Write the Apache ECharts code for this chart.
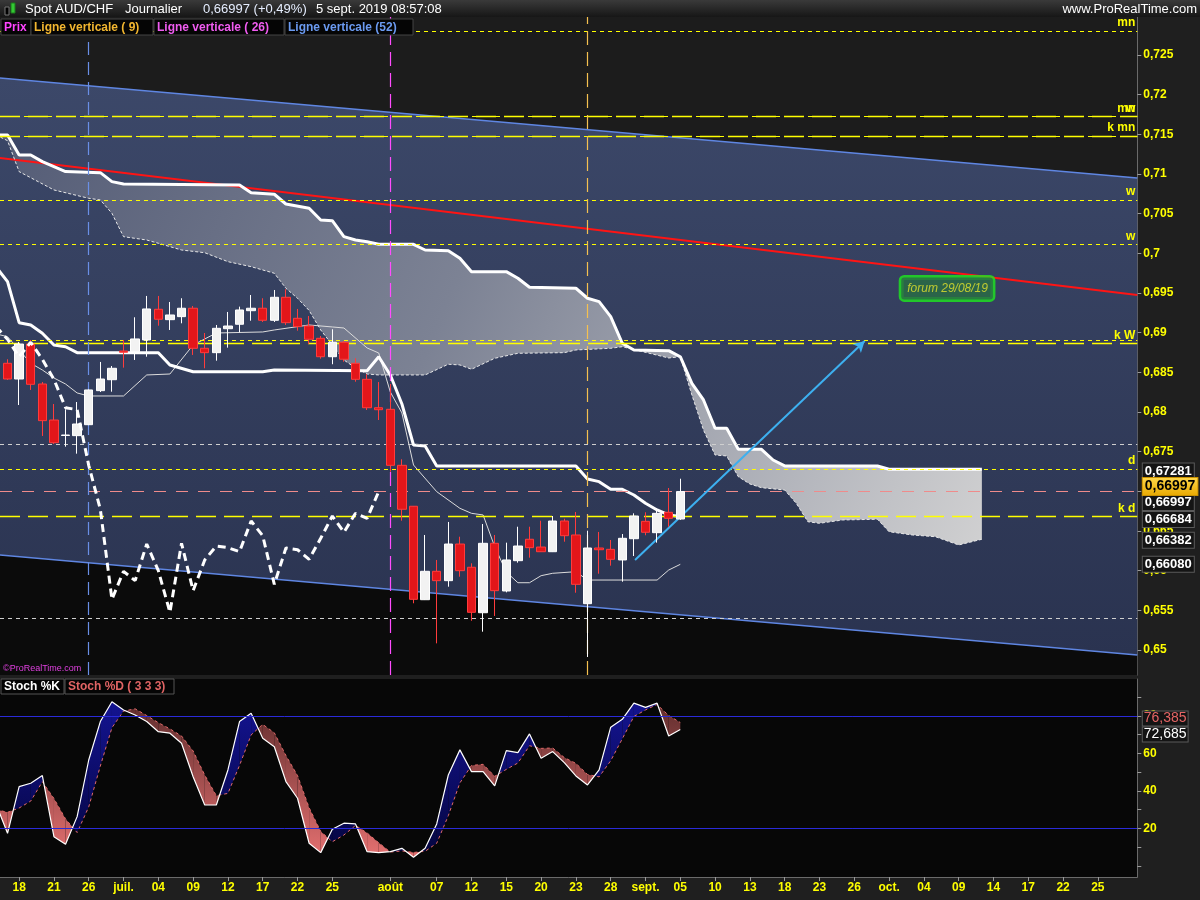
<!DOCTYPE html>
<html><head><meta charset="utf-8">
<script src="https://cdn.jsdelivr.net/npm/echarts@6/dist/echarts.min.js"></script>
<style>html,body{margin:0;padding:0;background:#1f1f1f;}#c{width:1200px;height:900px;}</style>
</head><body><div id="c"></div>
<script>
// ---------- DATA ----------
// trading-day index: 0 = 18 juin 2019 ; candles start at index -1
const candleFirstIdx = -1;
const open = [0.68614,0.68416,0.68857,0.68353,0.67899,0.67704,0.67702,0.67840,0.68269,0.68407,0.68769,0.68760,0.68908,0.69295,0.69164,0.69202,0.69308,0.68803,0.68748,0.69050,0.69106,0.69277,0.69308,0.69156,0.69446,0.69181,0.69084,0.68929,0.68697,0.68879,0.68614,0.68412,0.68054,0.68034,0.67328,0.66812,0.65634,0.65992,0.65874,0.66336,0.66043,0.65470,0.66345,0.65744,0.66126,0.66396,0.66298,0.66239,0.66626,0.66450,0.65584,0.66286,0.66269,0.66135,0.66403,0.66622,0.66479,0.66736,0.66651];
const close = [0.68416,0.68857,0.68349,0.67891,0.67613,0.67710,0.67849,0.68278,0.68416,0.68551,0.68753,0.68921,0.69299,0.69169,0.69223,0.69308,0.68803,0.68748,0.69055,0.69084,0.69286,0.69308,0.69156,0.69446,0.69126,0.69076,0.68917,0.68697,0.68879,0.68665,0.68412,0.68054,0.68029,0.67328,0.66774,0.65639,0.65992,0.65874,0.66336,0.66000,0.65475,0.66345,0.65748,0.66135,0.66311,0.66290,0.66239,0.66626,0.66441,0.65828,0.66286,0.66264,0.66143,0.66408,0.66689,0.66484,0.66723,0.66660,0.66997];
const low = [0.68404,0.68088,0.68278,0.67698,0.67597,0.67563,0.67475,0.67835,0.68252,0.68256,0.68559,0.68656,0.68697,0.69088,0.69034,0.69118,0.68719,0.68551,0.68647,0.68811,0.69005,0.69151,0.69135,0.69135,0.69097,0.69025,0.68857,0.68672,0.68602,0.68634,0.68382,0.68025,0.67899,0.67248,0.66630,0.65589,0.65630,0.65084,0.65798,0.65924,0.65369,0.65231,0.65429,0.65727,0.66101,0.66164,0.66235,0.66235,0.66365,0.65722,0.64912,0.65962,0.66063,0.65861,0.66185,0.66446,0.66353,0.66554,0.66640];
const high = [0.68665,0.68883,0.68908,0.68378,0.68101,0.68034,0.68126,0.68285,0.68631,0.68580,0.68908,0.69194,0.69463,0.69463,0.69387,0.69434,0.69336,0.68996,0.69097,0.69261,0.69328,0.69475,0.69434,0.69538,0.69547,0.69299,0.69210,0.68958,0.69043,0.68895,0.68677,0.68476,0.68378,0.68353,0.67404,0.66815,0.66450,0.66135,0.66614,0.66428,0.66093,0.66588,0.66450,0.66353,0.66554,0.66554,0.66630,0.66689,0.66655,0.66740,0.66504,0.66488,0.66387,0.66462,0.66723,0.66736,0.66790,0.67042,0.67159];
const chikouShift = 26;

// Ichimoku lines: [day index, price]
const cloudTop = [[-2,0.71492],[-1,0.71492],[0,0.71240],[1,0.71240],[2,0.71156],[4,0.71030],[7,0.71017],[8,0.70904],[9,0.70874],[19,0.70862],[20,0.70765],[22,0.70745],[23,0.70622],[25,0.70568],[26,0.70421],[27,0.70412],[28,0.70210],[29,0.70168],[30,0.70147],[31,0.70114],[34,0.70114],[35,0.70042],[37,0.70034],[38,0.69938],[39,0.69769],[42,0.69769],[43,0.69686],[44,0.69572],[48,0.69560],[49,0.69434],[50,0.69391],[51,0.69202],[52,0.68866],[53,0.68782],[56,0.68773],[57,0.68697],[58,0.68362],[59,0.68152],[60,0.67795],[61,0.67795],[62,0.67530],[64,0.67530],[65,0.67395],[66,0.67320],[74,0.67320],[75,0.67278],[83,0.67278]];
const cloudBottom = [[-2,0.71492],[-1,0.71420],[0,0.71030],[3,0.70799],[6,0.70694],[7,0.70673],[8,0.70505],[9,0.70210],[11,0.70168],[12,0.70127],[14,0.70042],[16,0.70008],[18,0.69895],[20,0.69832],[22,0.69749],[23,0.69560],[24,0.69434],[25,0.69280],[26,0.69034],[27,0.68845],[28,0.68656],[29,0.68555],[30,0.68479],[31,0.68467],[35,0.68467],[37,0.68602],[38,0.68593],[39,0.68539],[41,0.68677],[43,0.68740],[47,0.68748],[48,0.68782],[51,0.68803],[52,0.68823],[56,0.68681],[57,0.68697],[58,0.68215],[59,0.67773],[60,0.67458],[61,0.67446],[62,0.67185],[63,0.67093],[64,0.67046],[66,0.67017],[67,0.66849],[68,0.66617],[69,0.66597],[71,0.66639],[74,0.66648],[75,0.66491],[77,0.66450],[79,0.66428],[81,0.66324],[83,0.66396]];
const kijun = [[-2,0.69830],[-1,0.69643],[0,0.69126],[1,0.69097],[2,0.68992],[3,0.68845],[4,0.68823],[5,0.68748],[12,0.68748],[13,0.68593],[15,0.68508],[21,0.68508],[22,0.68530],[30,0.68521],[31,0.68697],[32,0.68467],[33,0.68101],[34,0.67584],[35,0.67572],[36,0.67320],[48,0.67320],[49,0.67156],[50,0.67122],[51,0.67026],[52,0.67026],[53,0.66954],[54,0.66849],[55,0.66765],[56,0.66702],[57,0.66684]];
const tenkan = [[-2,0.68985],[-1,0.68949],[0,0.68782],[1,0.68614],[2,0.68530],[3,0.68429],[4,0.68353],[5,0.68240],[6,0.68202],[9,0.68202],[11,0.68467],[13,0.68479],[15,0.68845],[17,0.68996],[21,0.69009],[22,0.69034],[25,0.69097],[27,0.69072],[28,0.69059],[30,0.68807],[31,0.68744],[32,0.68252],[33,0.67988],[34,0.67332],[36,0.66996],[38,0.66786],[39,0.66723],[40,0.66702],[41,0.66302],[42,0.65983],[43,0.65848],[44,0.65848],[45,0.65937],[46,0.65967],[48,0.65987],[49,0.65882],[55,0.65882],[56,0.66008],[57,0.66080]];

// drawn lines: [day index, price]
const channelUpper = [[-2,0.72215],[96.4,0.70950]];
const channelLower = [[-2,0.66203],[96.4,0.64937]];
const redTrend = [[-2,0.71207],[96.4,0.69475]];
const arrowLine = [[53.1,0.66135],[72.9,0.68895]];
const forumNote = [[80,0.69557]];
const forumText = 'forum 29/08/19';

// horizontal levels
const hLevelValues = [0.72803,0.71723,0.71723,0.71480,0.71480,0.70673,0.70114,0.68908,0.68866,0.67593,0.67281,0.66997,0.66684,0.65400];
const hLevelKinds  = ['short','short','long','short','long','short','short','short','long','gray','short','pink','long','gray'];
const hLevelLabels = ['mn','mn','w','','k mn','w','w','','k W','','d','','k d',''];
// vertical lines (day index)
const vLineIdx = [6,32,49];
const vLineKinds = ['blue','magenta','orange'];

// right-hand price tags
const priceTagValues = [0.67281,0.66997,0.66997,0.66684,0.66382,0.66080];
const priceTagKinds  = ['dark','dark','yellow','dark','dark','dark'];

// stochastic (index -2 .. 57)
const stochFirstIdx = -2;
const stochK = [33,17.3,42.2,44.0,48.1,15.5,11.5,26.2,56.4,76.9,87.5,83.1,80.4,76.9,71.5,70.7,65.3,47.5,32.4,32.4,51.1,76.9,81.3,68.0,63.5,44.9,36.0,12.0,7.0,19.5,22.7,22.3,7.5,7.0,7.5,9.3,4.5,9.3,22.3,48.4,61.8,50.2,50.2,42.6,61.4,60.3,70.3,57.3,60.9,55.0,47.9,43.1,51.1,73.9,78.1,86.7,84.5,86.7,69.2,72.685];
const stochD = [30,28.5,30.8,34.5,44.8,35.9,25.0,17.7,31.4,53.2,73.6,82.5,83.7,80.1,76.3,73.0,69.2,61.2,48.4,37.4,38.6,53.5,69.8,75.4,70.9,58.8,48.1,31.0,18.3,12.8,16.4,21.5,17.5,12.3,7.3,7.9,7.1,7.7,12.0,26.7,44.2,53.5,54.1,47.7,51.4,54.8,64.0,62.6,62.8,57.7,54.6,48.7,47.4,56.0,67.7,79.6,83.1,86.0,80.1,76.385];
const stochLevels = [80,20];

// axis ticks
const tickIdx = [0,3,6,9,12,15,18,21,24,27,32,36,39,42,45,48,51,54,57,60,63,66,69,72,75,78,81,84,87,90,93];
const tickLabels = ['18','21','26','juil.','04','09','12','17','22','25','août','07','12','15','20','23','28','sept.','05','10','13','18','23','26','oct.','04','09','14','17','22','25'];
const priceTicks = [0.65,0.655,0.66,0.665,0.67,0.675,0.68,0.685,0.69,0.695,0.7,0.705,0.71,0.715,0.72,0.725];
const stochTicks = [0,10,20,30,40,50,60,70,80,90];
const stochLabelTicks = [20,40,60,80];

// ---------- CHART ----------
const X_MIN = -1.65, X_MAX = 96.4, Y_MIN = 0.64685, Y_MAX = 0.72979;
const FONT = 'Liberation Sans';
const YEL = '#ffff00';
const labelMap = {}; tickIdx.forEach((v,i)=>labelMap[v]=tickLabels[i]);
const fmtPrice = v => String(parseFloat((+v).toFixed(3))).replace('.', ',');
const G = echarts.graphic;

function poly(getPts, fill, z){
  return {type:'custom', xAxisIndex:0, yAxisIndex:0, z, silent:true, clip:true, data:[[X_MIN, Y_MIN]],
    encode:{x:0,y:1},
    renderItem:(p,api)=>({type:'polygon', shape:{points:getPts().map(pt=>api.coord(pt))}, style:{fill}})};
}
function lineS(data, color, width, type, z, xi, yi){
  return {type:'line', xAxisIndex:xi||0, yAxisIndex:yi||0, z, silent:true, showSymbol:false, symbol:'none',
    data, lineStyle:{color, width, type: type||'solid'}, clip:true, animation:false};
}
const kindStyle = {
  short:{color:YEL, width:1, type:[4,4]},
  long:{color:YEL, width:1.3, type:[20,8]},
  gray:{color:'#cfcfcf', width:1, type:[4,4]},
  pink:{color:'#ef8b8b', width:1, type:[12,10]}
};
const vStyle = {
  blue:{color:'#6a8fe6', width:1.2, type:[13,7]},
  magenta:{color:'#ff4cff', width:1.2, type:[14,7]},
  orange:{color:'#f5c050', width:1.2, type:[14,7]}
};

const chikou = close.map((c,j)=>[j+candleFirstIdx-chikouShift, c]).filter(p=>p[0]>=-2);

const series = [
  poly(()=>[channelUpper[0],channelUpper[1],channelLower[1],channelLower[0]],
    new G.LinearGradient(0,0,0,1,[{offset:0,color:'#3c4869'},{offset:1,color:'#2a3350'}]),1),
  poly(()=>[channelLower[0],channelLower[1],[X_MAX,Y_MIN],[-2,Y_MIN]], '#0b0b0b',1),
  poly(()=>cloudTop.concat(cloudBottom.slice().reverse()),
    new G.LinearGradient(0,0,1,1,[{offset:0,color:'#545c76'},{offset:0.45,color:'#7c8294'},{offset:1,color:'#d0d0d1'}]),2),
  lineS(channelUpper,'#5f86e2',1.5,'solid',3),
  lineS(channelLower,'#5f86e2',1.5,'solid',3),
  {type:'line', xAxisIndex:0, yAxisIndex:0, data:[], z:3, silent:true,
    markLine:{silent:true, symbol:['none','none'], animation:false, precision:6,
      data: hLevelValues.map((v,i)=>({yAxis:v, lineStyle:kindStyle[hLevelKinds[i]],
        label:{show:!!hLevelLabels[i], formatter:hLevelLabels[i], position:'insideEndTop', distance:2,
          color:YEL, fontWeight:'bold', fontSize:12, fontFamily:FONT}}))
    }},
  {type:'line', xAxisIndex:0, yAxisIndex:0, data:[], z:3, silent:true,
    markLine:{silent:true, symbol:['none','none'], animation:false, precision:6, label:{show:false},
      data: vLineIdx.map((v,i)=>({xAxis:v, lineStyle:vStyle[vLineKinds[i]]}))}},
  lineS(redTrend,'#ff1414',2,'solid',4),
  lineS(cloudBottom,'#e8e8e8',1,[3,2],4),
  lineS(cloudTop,'#ffffff',3,'solid',4),
  lineS(tenkan,'#dcdcdc',1,'solid',4),
  lineS(kijun,'#ffffff',3,'solid',4),
  {type:'candlestick', xAxisIndex:0, yAxisIndex:0, z:5, silent:true, barWidth:9, animation:false,
    data: open.map((o,i)=>[i+candleFirstIdx, o, close[i], low[i], high[i]]),
    encode:{x:0, y:[1,2,3,4]},
    itemStyle:{color:'#f2f2f2', color0:'#e3161a', borderColor:'#ffffff', borderColor0:'#ff3c3c', borderWidth:1}},
  lineS(chikou,'#ffffff',3,[8,5],6),
  {type:'line', xAxisIndex:0, yAxisIndex:0, data:[], z:7, silent:true,
    markLine:{silent:true, animation:false, precision:6, symbol:['none','arrow'], symbolSize:[9,11],
      lineStyle:{color:'#3db0f0', width:2, type:'solid'}, label:{show:false},
      data:[[{coord:arrowLine[0]},{coord:arrowLine[1]}]]}},
  {type:'scatter', xAxisIndex:0, yAxisIndex:0, z:8, silent:true, symbolSize:0, data:forumNote,
    label:{show:true, position:'inside', formatter:forumText, color:'#e4e42c', fontStyle:'italic', fontSize:12,
      fontFamily:FONT, backgroundColor:'#296d43', borderColor:'#1ee81e', borderWidth:2.5, borderRadius:3, padding:[5,5,5,6]}},
  {type:'line', xAxisIndex:0, yAxisIndex:0, data:[], z:9, silent:true,
    markPoint:{silent:true, animation:false, symbol:'rect', symbolSize:1, itemStyle:{color:'rgba(0,0,0,0)'},
      data: priceTagValues.map((v,i)=>{
        const yellow = priceTagKinds[i]==='yellow';
        const offs = [2,11,-5,3,0,0];
        return {coord:[X_MAX, v], label:{show:true, position:'right', distance:5, offset:[0,offs[i]],
          formatter: v.toFixed(5).replace('.',','), fontFamily:FONT, fontWeight:'bold',
          fontSize: yellow?14:13, color: yellow?'#000':'#ffffff',
          backgroundColor: yellow? new G.LinearGradient(0,0,0,1,[{offset:0,color:'#ffd84a'},{offset:1,color:'#e8a800'}]) :'#141414',
          borderColor: yellow?'#c89000':'#5a5a5a', borderWidth:1, padding: yellow?[2,2,1,2]:[1,2,1,2]}};
      })}},
  // ---- stochastic pane ----
  {type:'custom', xAxisIndex:1, yAxisIndex:1, z:2, silent:true, clip:true,
    data: stochK.slice(0,-1).map((v,i)=>[i+stochFirstIdx, v]), encode:{x:0,y:1},
    renderItem:(params, api)=>{
      const i = params.dataIndex;
      const x0 = i+stochFirstIdx, x1 = x0+1;
      const k0 = stochK[i], k1 = stochK[i+1], d0 = stochD[i], d1 = stochD[i+1];
      const yT = api.coord([0,100])[1], yB = api.coord([0,0])[1];
      const blue = new G.LinearGradient(0,yT,0,yB,[{offset:0,color:'#16169e'},{offset:1,color:'#04043a'}],true);
      const red = new G.LinearGradient(0,yT,0,yB,[{offset:0,color:'#4a2222'},{offset:1,color:'#ec7474'}],true);
      const e0 = k0-d0, e1 = k1-d1;
      const ch = [];
      const pg = (pts, fill)=>ch.push({type:'polygon', shape:{points:pts.map(p=>api.coord(p))}, style:{fill}});
      if (e0*e1 >= 0) {
        pg([[x0,k0],[x1,k1],[x1,d1],[x0,d0]], (e0+e1)>=0?blue:red);
      } else {
        const t = e0/(e0-e1), xc = x0+t, yc = k0+t*(k1-k0);
        pg([[x0,k0],[xc,yc],[x0,d0]], e0>0?blue:red);
        pg([[xc,yc],[x1,k1],[x1,d1]], e1>0?blue:red);
      }
      return {type:'group', children:ch};
    }},
  lineS(stochD.map((v,i)=>[i+stochFirstIdx,v]),'#e06a6a',1,[3,3],3,1,1),
  Object.assign(lineS(stochK.map((v,i)=>[i+stochFirstIdx,v]),'#ffffff',1.2,'solid',4,1,1),{
    markLine:{silent:true, animation:false, precision:6, symbol:['none','none'], label:{show:false},
      lineStyle:{color:'#2a2ad8', width:1, type:'solid'},
      data: stochLevels.map(v=>({yAxis:v}))},
    markPoint:{silent:true, animation:false, symbol:'rect', symbolSize:1, itemStyle:{color:'rgba(0,0,0,0)'},
      data:[
        {coord:[X_MAX, stochD[stochD.length-1]], label:{show:true, position:'right', distance:5, offset:[0,-4],
          formatter: stochD[stochD.length-1].toFixed(3).replace('.',','), color:'#e46464', fontSize:14, fontFamily:FONT,
          backgroundColor:'#141414', borderColor:'#5a5a5a', borderWidth:1, padding:[0,1,0,1]}},
        {coord:[X_MAX, stochK[stochK.length-1]], label:{show:true, position:'right', distance:5, offset:[0,5],
          formatter: stochK[stochK.length-1].toFixed(3).replace('.',','), color:'#ffffff', fontSize:14, fontFamily:FONT,
          backgroundColor:'#141414', borderColor:'#5a5a5a', borderWidth:1, padding:[0,1,0,1]}}
      ]}})
];

const axisCommonY = {
  type:'value', position:'right', scale:true, splitLine:{show:false},
  axisLine:{show:true, onZero:false, lineStyle:{color:'#6a6a6a'}}
};
const option = {
  backgroundColor:'#1f1f1f',
  animation:false,
  textStyle:{fontFamily:FONT},
  grid:[
    {left:0, width:1137.3, top:17, height:658, show:true, backgroundColor:'#1c1c1c', borderWidth:0},
    {left:0, width:1137.3, top:679, height:198, show:true, backgroundColor:'#070707', borderWidth:0}
  ],
  xAxis:[
    {type:'value', gridIndex:0, min:X_MIN, max:X_MAX, show:false, axisLine:{onZero:false}, splitLine:{show:false}},
    {type:'value', gridIndex:1, min:X_MIN, max:X_MAX, position:'bottom', splitLine:{show:false},
      axisLine:{show:true, onZero:false, lineStyle:{color:'#6a6a6a'}},
      axisTick:{show:true, customValues:tickIdx, length:4, lineStyle:{color:'#9a9a9a'}},
      axisLabel:{customValues:tickIdx, formatter:v=>labelMap[v]||'', color:YEL, fontWeight:'bold', fontSize:12, margin:5, fontFamily:FONT}}
  ],
  yAxis:[
    Object.assign({}, axisCommonY, {gridIndex:0, min:Y_MIN, max:Y_MAX,
      axisTick:{show:true, customValues:priceTicks, length:4, lineStyle:{color:'#9a9a9a'}},
      axisLabel:{customValues:priceTicks, formatter:fmtPrice, color:YEL, fontWeight:'bold', fontSize:12, margin:6, fontFamily:FONT}}),
    Object.assign({}, axisCommonY, {gridIndex:1, min:-6, max:99.6,
      axisTick:{show:true, customValues:stochTicks, length:4, lineStyle:{color:'#9a9a9a'}},
      axisLabel:{customValues:stochLabelTicks, formatter:v=>String(v), color:YEL, fontWeight:'bold', fontSize:12, margin:6, fontFamily:FONT}})
  ],
  graphic:[
    {type:'rect', z:50, shape:{x:0,y:0,width:1200,height:17},
      style:{fill:new G.LinearGradient(0,0,0,1,[{offset:0,color:'#3a3a3a'},{offset:1,color:'#161616'}])}},
    {type:'rect', z:51, shape:{x:5,y:7,width:4,height:8}, style:{fill:'#000', stroke:'#777', lineWidth:1}},
    {type:'rect', z:51, shape:{x:11,y:3,width:4,height:10}, style:{fill:'#34c834', stroke:'#1a7a1a', lineWidth:1}},
    {type:'text', z:51, x:25, y:9, style:{text:'Spot AUD/CHF', fill:'#ffffff', font:'13px '+FONT, verticalAlign:'middle'}},
    {type:'text', z:51, x:125, y:9, style:{text:'Journalier', fill:'#ffffff', font:'13px '+FONT, verticalAlign:'middle'}},
    {type:'text', z:51, x:203, y:9, style:{text:'0,66997 (+0,49%)', fill:'#e6eeff', font:'13px '+FONT, verticalAlign:'middle'}},
    {type:'text', z:51, x:316, y:9, style:{text:'5 sept. 2019 08:57:08', fill:'#ffffff', font:'13px '+FONT, verticalAlign:'middle'}},
    {type:'text', z:51, x:1197, y:9, style:{text:'www.ProRealTime.com', fill:'#ffffff', font:'13px '+FONT, align:'right', verticalAlign:'middle'}},
    {type:'rect', z:50, shape:{x:1,y:19,width:30,height:16}, style:{fill:'#050505', stroke:'#444', lineWidth:1}},
    {type:'rect', z:50, shape:{x:31,y:19,width:122,height:16}, style:{fill:'#050505', stroke:'#444', lineWidth:1}},
    {type:'rect', z:50, shape:{x:154,y:19,width:130,height:16}, style:{fill:'#050505', stroke:'#444', lineWidth:1}},
    {type:'rect', z:50, shape:{x:285,y:19,width:128,height:16}, style:{fill:'#050505', stroke:'#444', lineWidth:1}},
    {type:'text', z:51, x:4, y:27.5, style:{text:'Prix', fill:'#ff44ff', font:'bold 12px '+FONT, verticalAlign:'middle'}},
    {type:'text', z:51, x:34, y:27.5, style:{text:'Ligne verticale ( 9)', fill:'#f2b630', font:'bold 12px '+FONT, verticalAlign:'middle'}},
    {type:'text', z:51, x:157, y:27.5, style:{text:'Ligne verticale ( 26)', fill:'#f05cf0', font:'bold 12px '+FONT, verticalAlign:'middle'}},
    {type:'text', z:51, x:288, y:27.5, style:{text:'Ligne verticale (52)', fill:'#6b9af0', font:'bold 12px '+FONT, verticalAlign:'middle'}},
    {type:'text', z:51, x:3, y:669, style:{text:'©ProRealTime.com', fill:'#e040e0', font:'9px '+FONT, verticalAlign:'middle'}},
    {type:'rect', z:50, shape:{x:1,y:679,width:63,height:15}, style:{fill:'#050505', stroke:'#555', lineWidth:1}},
    {type:'rect', z:50, shape:{x:65,y:679,width:109,height:15}, style:{fill:'#050505', stroke:'#555', lineWidth:1}},
    {type:'text', z:51, x:4, y:686.5, style:{text:'Stoch %K', fill:'#ffffff', font:'bold 12px '+FONT, verticalAlign:'middle'}},
    {type:'text', z:51, x:68, y:686.5, style:{text:'Stoch %D ( 3 3 3)', fill:'#e06464', font:'bold 12px '+FONT, verticalAlign:'middle'}}
  ],
  series
};
const chart = echarts.init(document.getElementById('c'));
chart.setOption(option);
</script>
</body></html>
